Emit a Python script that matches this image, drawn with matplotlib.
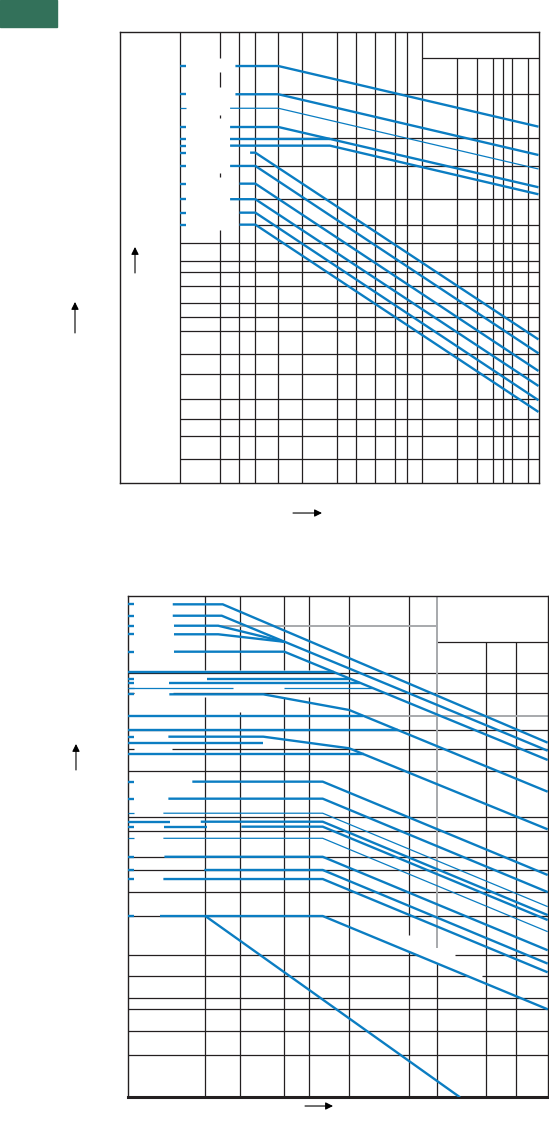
import matplotlib
matplotlib.use("Agg")
import matplotlib.pyplot as plt
from matplotlib.patches import Rectangle, FancyArrowPatch
from matplotlib.ticker import NullLocator

BLUE = "#0b7dc2"
INK = "#231f20"
GRAY = "#a7a9ac"

# ---------------- upper chart (log-log, no labels) ----------------
top_xlim = (0.304, 929)
top_ylim = (1, 5730)
top_col = 0.962       # right edge of the empty label column
top_tick = 1.07       # end of the short blue marks at the left

top_v_full = [2.99, 4.06, 6.31, 10, 19.6, 28.2, 40.6, 59.6, 75, 100]
top_v_head = [196, 287, 391, 471, 562, 755]          # hang from the header line
top_v_dash = [(1, 129), (359, 388), (1101, 1173), (2018, 2692), (3480, 5730)]  # at x=2.07
top_head_y = 3480
top_h_upper = [(1745, 6.31), (754, 6.31), (441, 4.06), (233, 4.06), (141, 4.06)]
top_h_lower = [100, 70.8, 57.3, 43.8, 31.6, 24.4, 18.6, 11.9, 8.10, 5.01, 3.45, 2.46, 1.58]

top_lines_x = [
    [2.77, 6.31, 929], [2.77, 6.31, 929], [2.50, 6.31, 929], [2.50, 6.31, 929],
    [2.50, 17.0], [2.50, 17.0, 929],
    [3.67, 4.06, 929], [2.50, 4.06, 929], [2.99, 4.06, 929],
    [2.50, 4.06, 929], [2.99, 4.06, 929], [2.99, 4.06, 929],
]
top_lines_y = [
    [3000, 3000, 937], [1745, 1745, 544], [1334, 1334, 416], [931, 931, 293],
    [744, 744], [651, 651, 256],
    [569, 569, 15.8], [441, 441, 12.1], [314, 314, 8.63],
    [233, 233, 6.47], [180, 180, 4.92], [143, 143, 3.93],
]
top_thin = [2]

# ---------------- lower chart ----------------
bot_xlim = (2.28, 7134)
bot_ylim = (1, 15050)
bot_tick = 2.56

bot_v = [
    (10, [(1, 2168), (3640, 15050)]),
    (19.6, [(1, 1625), (3640, 15050)]),
    (45.5, [(1, 2168), (3640, 15050)]),
    (73.6, [(1, 2168), (3640, 15050)]),
    (158, [(1, 15050)]),
    (501, [(1, 16.3), (22.5, 15050)]),
    (858, [(1, 13.1)]),
    (2197, [(1, 6190)]),
    (3906, [(1, 6190)]),
]
bot_v_gray = (858, 17.6, 15050)
bot_h = [
    (6190, [(858, 7134)]),
    (3415, [(2.28, 7134)]),
    (2326, [(5.35, 7134)]),
    (1144, [(2.28, 7134)]),
    (794, [(5.25, 7134)]),
    (521, [(2.28, 7134)]),
    (215, [(2.28, 7134)]),
    (165, [(2.28, 7134)]),
    (100, [(2.28, 7134)]),
    (77.9, [(2.28, 7134)]),
    (51.4, [(2.28, 7134)]),
    (32.2, [(2.28, 7134)]),
    (15.3, [(2.28, 592), (1205, 7134)]),
    (10.2, [(2.28, 1545), (2023, 7134)]),
    (6.68, [(2.28, 7134)]),
    (5.41, [(2.28, 7134)]),
    (3.55, [(2.28, 7134)]),
    (2.24, [(2.28, 7134)]),
]
bot_black_ticks = [2326, 794]
bot_h_gray = [(8510, 13.3, 858), (1514, 206, 7134)]

bot_lines_x = [
    [5.35, 13.96, 7134], [5.35, 13.7, 7134], [5.48, 12.8, 45.5], [5.48, 12.8, 45.5],
    [5.48, 45.5, 7134],
    [2.28, 119], [10.4, 161], [4.98, 194], [2.28, 17.1], [45.5, 245],
    [5.01, 30.4, 158, 7134], [2.28, 206], [2.28, 407],
    [4.92, 30.4, 158, 7134], [2.28, 30.4], [2.28, 209.5],
    [7.79, 95.1, 7134], [4.92, 95.1, 7134], [4.47, 95.1, 7134],
    [2.28, 5.08], [9.16, 95.1, 7134], [4.53, 10.4], [19.95, 95.1, 7134],
    [4.47, 95.1, 7134], [4.56, 95.1, 7134], [9.81, 95.1, 7134],
    [4.47, 95.1, 7134], [4.19, 95.1, 7134], [10, 1326],
]
bot_lines_y = [
    [12830, 12830, 902], [10310, 10310, 773], [8510, 8510, 6250], [7220, 7220, 6250],
    [5170, 5170, 647],
    [3480, 3480], [3078, 3078], [2851, 2851], [2590, 2590], [2590, 2590],
    [2282, 2282, 1689, 352], [1514, 1514], [1144, 1144],
    [1012, 1012, 810, 171], [902, 902], [722, 722],
    [427, 427, 71.2], [308, 308, 51.3], [233, 233, 38.8],
    [198, 198], [198, 198, 33], [180, 180], [180, 180, 30],
    [144, 144, 24], [101, 101, 16.8], [78.4, 78.4, 13],
    [65.9, 65.9, 11], [32.4, 32.4, 5.41], [32.4, 1],
]
bot_thin = [8, 9, 18, 23]
bot_ticks = [12830, 10310, 8510, 7220, 5170, 3078, 2851, 2282, 1012,
             427, 308, 233, 180, 144, 101, 78.4, 65.9, 32.4]


def setup(ax, xlim, ylim):
    ax.set_xscale("log")
    ax.set_yscale("log")
    ax.set_xlim(*xlim)
    ax.set_ylim(*ylim)
    for axis in (ax.xaxis, ax.yaxis):
        axis.set_major_locator(NullLocator())
        axis.set_minor_locator(NullLocator())
    for s in ax.spines.values():
        s.set_color(INK)
        s.set_linewidth(1.0)


def blue(ax, xs, ys, thin=False):
    ax.plot(xs, ys, color=BLUE, lw=0.9 if thin else 1.7,
            solid_capstyle="butt", solid_joinstyle="miter", zorder=3)


fig = plt.figure(figsize=(5.49, 11.36), dpi=100)
fig.patches.append(Rectangle((0, 1 - 27 / 1136), 57 / 549, 27 / 1136,
                             transform=fig.transFigure, color="#33715a"))

# upper chart
ax1 = fig.add_axes([0.2191, 0.57456, 0.7618, 0.39701])
setup(ax1, top_xlim, top_ylim)
gkw = dict(color=INK, lw=0.9, zorder=2)
ax1.vlines(top_col, *top_ylim, **gkw)
for y0, y1 in top_v_dash:
    ax1.vlines(2.07, y0, y1, **gkw)
ax1.vlines(top_v_full, *top_ylim, **gkw)
ax1.vlines(top_v_head, top_ylim[0], top_head_y, **gkw)
ax1.hlines(top_head_y, 100, top_xlim[1], **gkw)
for y, x0 in top_h_upper:
    ax1.hlines(y, x0, top_xlim[1], **gkw)
ax1.hlines(top_h_lower, top_col, top_xlim[1], **gkw)
for i, (xs, ys) in enumerate(zip(top_lines_x, top_lines_y)):
    blue(ax1, xs, ys, i in top_thin)
    if len(xs) > 2 or i == 4:
        blue(ax1, [top_col, top_tick], [ys[0], ys[0]], i in top_thin)

# lower chart
ax2 = fig.add_axes([0.2337, 0.03407, 0.76393, 0.44128])
setup(ax2, bot_xlim, bot_ylim)
ax2.spines["bottom"].set_linewidth(2.2)
for x, segs in bot_v:
    for y0, y1 in segs:
        ax2.vlines(x, y0, y1, **gkw)
for y, segs in bot_h:
    for x0, x1 in segs:
        ax2.hlines(y, x0, x1, **gkw)
ax2.hlines(bot_black_ticks, bot_xlim[0], bot_tick, **gkw)
for y, x0, x1 in bot_h_gray:
    ax2.hlines(y, x0, x1, color=GRAY, lw=1.4, zorder=2)
ax2.vlines(bot_v_gray[0], bot_v_gray[1], bot_v_gray[2], color=GRAY, lw=1.4, zorder=2)
for i, (xs, ys) in enumerate(zip(bot_lines_x, bot_lines_y)):
    blue(ax2, xs, ys, i in bot_thin)
ax2.hlines(2590, bot_xlim[0], bot_tick, color=BLUE, lw=0.9, zorder=3)
for y in bot_ticks:
    blue(ax2, [bot_xlim[0], bot_tick], [y, y], y in (233, 144))

# arrows
akw = dict(arrowstyle="-|>", color="black", lw=0.8, mutation_scale=11, shrinkA=0, shrinkB=0)
for tail, head in [((0.1366, 0.7069), (0.1366, 0.7342)),
                   ((0.2459, 0.7597), (0.2459, 0.7826)),
                   ((0.5337, 0.5484), (0.5865, 0.5484)),
                   ((0.1384, 0.3222), (0.1384, 0.3451)),
                   ((0.5556, 0.0264), (0.6066, 0.0264))]:
    fig.add_artist(FancyArrowPatch(tail, head, transform=fig.transFigure, **akw))

fig.savefig("out.png", dpi=100)
